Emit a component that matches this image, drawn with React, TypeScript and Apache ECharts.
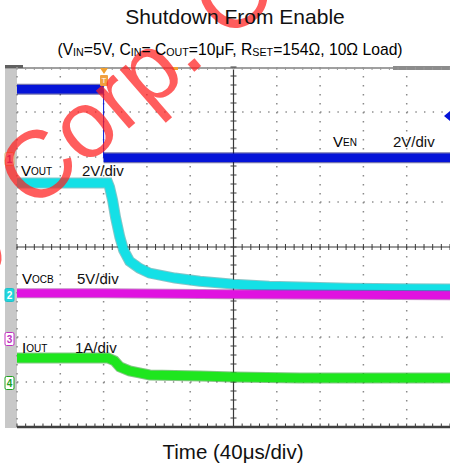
import React, { useEffect, useRef } from 'react';
import * as echarts from 'echarts';

const FONT = '"Liberation Sans", Arial, Helvetica, sans-serif';

// Time axis in µs, trigger at 0, 40 µs/div, 10 divisions
const T_MIN = -80;
const T_MAX = 320;
const T_DIV = 40;
const TIME_TICKS = [-80, -40, 0, 40, 80, 120, 160, 200, 240, 280, 320];
const T_CENTER = 120;
const DIV_COUNT = 8;

// Channels: ground level (divisions from bottom) and scale (unit/div)
const CH_NAMES = ['VEN', 'VOUT', 'VOCB', 'IOUT'];
const CH_GROUND = [5.95, 2.93, 1.95, 0.98];
const CH_SCALE = [2, 2, 5, 1];
const CH_COLORS = ['#0514d8', '#14e0e6', '#e012e0', '#1ee61e'];
const CH_EDGE = ['#00006e', '#0a8c90', '#8c0a8c', '#0a8c0a'];

// VEN (V)
const VEN_T = [-80, 0, 0, 320];
const VEN_V = [3.11, 3.11, 0.07, 0.07];

// VOUT (V)
const VOUT_T = [-80, 4, 5.5, 8.3, 11, 15, 18.5, 24, 33, 42.5, 66, 89, 120, 153, 181, 227, 273, 320];
const VOUT_V = [4.98, 4.98, 4.8, 4.22, 3.47, 2.58, 2.0, 1.51, 1.2, 0.98, 0.76, 0.62, 0.49, 0.4, 0.36, 0.31, 0.29, 0.27];

// VOCB (V)
const VOCB_T = [-80, 0, 120, 320];
const VOCB_V = [5.1, 5.1, 5.0, 4.9];

// IOUT (A)
const IOUT_T = [-80, 4, 10, 15, 24, 33, 42.5, 89, 120, 181, 320];
const IOUT_V = [0.556, 0.556, 0.49, 0.356, 0.267, 0.222, 0.178, 0.156, 0.133, 0.111, 0.111];

const toDiv = (ch: number, v: number) => CH_GROUND[ch] + v / CH_SCALE[ch];
const pts = (T: number[], V: number[], ch: number) => T.map((t, i) => [t, toDiv(ch, V[i])]);

function buildOption() {
  const venBand: any[] = [];
  const venEdge: any[] = [];
  VEN_T.forEach((t, i) => {
    if (i > 0 && t === VEN_T[i - 1]) {
      venBand.push([t, '-']);
      venEdge.push([VEN_T[i - 1], toDiv(0, VEN_V[i - 1])]);
      venEdge.push([t, toDiv(0, VEN_V[i])]);
    }
    venBand.push([t, toDiv(0, VEN_V[i])]);
  });

  const lineSeries = (name: string, data: any[], color: string, width: number, z: number, opacity = 1) => ({
    type: 'line',
    name,
    data,
    showSymbol: false,
    symbol: 'none',
    silent: true,
    z,
    lineStyle: { color, width, cap: 'butt', join: 'miter', opacity },
  });

  const graticule = {
    type: 'custom',
    silent: true,
    z: 1,
    clip: false,
    data: [[0, 0]],
    renderItem: (params: any, api: any) => {
      const X = (t: number) => api.coord([t, 0])[0];
      const Y = (v: number) => api.coord([T_MIN, v])[1];
      const xl = X(T_MIN), xr = X(T_MAX), yb = Y(0), yt = Y(DIV_COUNT);
      const dx = (X(T_DIV) - X(0)) / 5;
      const dy = (Y(0) - Y(1)) / 5;
      const children: any[] = [];
      const dot = '#8a8a8a';
      for (let k = 1; k < DIV_COUNT; k++) {
        if (k === DIV_COUNT / 2) continue;
        children.push({
          type: 'line',
          shape: { x1: xl, y1: Y(k), x2: xr, y2: Y(k) },
          style: { stroke: dot, lineWidth: 1.5, lineDash: [1.4, dx - 1.4] },
        });
      }
      TIME_TICKS.forEach((t) => {
        if (t === T_CENTER || t === T_MAX) return;
        children.push({
          type: 'line',
          shape: { x1: X(t), y1: yt, x2: X(t), y2: yb },
          style: { stroke: dot, lineWidth: 1.5, lineDash: [1.4, dy - 1.4] },
        });
      });
      const yc = Y(DIV_COUNT / 2);
      const xc = X(T_CENTER);
      const axis = '#3a3a3a';
      children.push({ type: 'line', shape: { x1: xl, y1: yc, x2: xr, y2: yc }, style: { stroke: axis, lineWidth: 1.2 } });
      children.push({ type: 'line', shape: { x1: xc, y1: yt, x2: xc, y2: yb }, style: { stroke: axis, lineWidth: 1.2 } });
      for (let n = 0; n <= 50; n++) {
        const x = xl + n * dx;
        children.push({ type: 'line', shape: { x1: x, y1: yc - 3, x2: x, y2: yc + 3 }, style: { stroke: axis, lineWidth: 1 } });
        children.push({ type: 'line', shape: { x1: x, y1: yb, x2: x, y2: yb - 3.5 }, style: { stroke: axis, lineWidth: 1 } });
        children.push({ type: 'line', shape: { x1: x, y1: yt, x2: x, y2: yt + 3 }, style: { stroke: '#999', lineWidth: 1 } });
      }
      for (let n = 0; n <= 40; n++) {
        const y = yt + n * dy;
        children.push({ type: 'line', shape: { x1: xc - 3, y1: y, x2: xc + 3, y2: y }, style: { stroke: axis, lineWidth: 1 } });
      }
      children.push({ type: 'line', shape: { x1: xl, y1: yb, x2: xr, y2: yb }, style: { stroke: '#404040', lineWidth: 2.5 } });
      return { type: 'group', children };
    },
  };

  const voutPts = pts(VOUT_T, VOUT_V, 1);
  const vocbPts = pts(VOCB_T, VOCB_V, 2);
  const ioutPts = pts(IOUT_T, IOUT_V, 3);

  const series: any[] = [
    graticule,
    lineSeries(CH_NAMES[0] + ' noise', venBand, CH_EDGE[0], 11, 3, 0.55),
    lineSeries(CH_NAMES[0], venBand, CH_COLORS[0], 8.5, 3),
    lineSeries(CH_NAMES[0] + ' edge', venEdge, CH_COLORS[0], 1, 3),
    lineSeries(CH_NAMES[1] + ' noise', voutPts, CH_EDGE[1], 11, 4, 0.5),
    lineSeries(CH_NAMES[1], voutPts, CH_COLORS[1], 9, 4),
    lineSeries(CH_NAMES[2] + ' noise', vocbPts, CH_EDGE[2], 10, 5, 0.5),
    lineSeries(CH_NAMES[2], vocbPts, CH_COLORS[2], 8, 5),
    lineSeries(CH_NAMES[3] + ' noise', ioutPts, CH_EDGE[3], 11, 6, 0.5),
    lineSeries(CH_NAMES[3], ioutPts, CH_COLORS[3], 9, 6),
  ];

  const labelRich = {
    v: { fontSize: 15, fontFamily: FONT, color: '#111', verticalAlign: 'bottom' },
    s: { fontSize: 10, fontFamily: FONT, color: '#111', verticalAlign: 'bottom', padding: [0, 0, 1, 0] },
  };
  const chanLabel = (x: number, y: number, main: string, sub: string, scale: string, sx: number) => [
    {
      type: 'text', x, y, z: 20,
      style: { text: `{v|${main}}{s|${sub}}`, rich: labelRich, verticalAlign: 'middle', align: 'left' },
    },
    {
      type: 'text', x: sx, y, z: 20,
      style: { text: scale, fontSize: 15, fontFamily: FONT, fill: '#111', verticalAlign: 'middle', align: 'left' },
    },
  ];

  const subRich = {
    m: { fontSize: 15.7, fontFamily: FONT, color: '#111', verticalAlign: 'bottom' },
    s: { fontSize: 10.7, fontFamily: FONT, color: '#111', verticalAlign: 'bottom' },
  };

  const marker = (y: number, label: string, fill: string, stroke: string, color: string) => ({
    type: 'group', z: 8,
    children: [
      { type: 'rect', shape: { x: 5, y: y - 6.5, width: 9, height: 13, r: 1.5 }, style: { fill, stroke, lineWidth: 1 } },
      { type: 'text', x: 9.5, y, style: { text: label, fontSize: 10, fontWeight: 'bold', fontFamily: FONT, fill: color, align: 'center', verticalAlign: 'middle' } },
    ],
  });

  const graphic: any[] = [
    { type: 'rect', z: 0, shape: { x: 5, y: 67, width: 12, height: 361 }, style: { fill: '#c8c8c8' } },
    { type: 'rect', z: 0, shape: { x: 5, y: 67, width: 446, height: 2 }, style: { fill: '#a0a0a0' } },
    { type: 'rect', z: 0, shape: { x: 393, y: 66, width: 58, height: 4 }, style: { fill: '#8c8c8c' } },
    { type: 'rect', z: 0, shape: { x: 5, y: 65, width: 18, height: 3 }, style: { fill: '#606060' } },
    marker(159, '1', '#efe6f4', '#d8b060', '#9a2ab0'),
    marker(295, '2', '#20d6de', '#20c0c8', '#ffffff'),
    marker(339, '3', '#ffffff', '#c030c0', '#c030c0'),
    marker(383, '4', '#ffffff', '#20a020', '#20a020'),
    { type: 'polygon', z: 8, shape: { points: [[100, 68], [108, 68], [104, 74]] }, style: { fill: '#f0a030' } },
    { type: 'rect', z: 8, shape: { x: 100, y: 75, width: 8, height: 11, r: 1 }, style: { fill: '#f0a040' } },
    { type: 'text', z: 9, x: 104, y: 80.5, style: { text: 'T', fontSize: 8, fontFamily: FONT, fill: '#ffffff', align: 'center', verticalAlign: 'middle' } },
    { type: 'rect', z: 8, shape: { x: 173, y: 67, width: 5, height: 3 }, style: { fill: '#f0a030' } },
    { type: 'polygon', z: 8, shape: { points: [[444, 116], [450, 111], [450, 121]] }, style: { fill: '#0514d8' } },
    // watermark
    {
      type: 'text', z: 12, x: -45, y: 236, rotation: (41 * Math.PI) / 180,
      style: { text: 'y Corp. Co', fontSize: 95, fontFamily: FONT, fill: 'rgba(255,30,30,0.72)', align: 'left', verticalAlign: 'middle' },
    },
    ...chanLabel(21, 170, 'V', 'OUT', '2V/div', 82),
    ...chanLabel(333, 141, 'V', 'EN', '2V/div', 393),
    ...chanLabel(22, 278, 'V', 'OCB', '5V/div', 77),
    ...chanLabel(22, 347, 'I', 'OUT', '1A/div', 75),
    {
      type: 'text', z: 20, x: 235, y: 16.5,
      style: { text: 'Shutdown From Enable', fontSize: 21, fontFamily: FONT, fill: '#111', align: 'center', verticalAlign: 'middle' },
    },
    {
      type: 'text', z: 20, x: 230, y: 49,
      style: {
        text: '{m|(V}{s|IN}{m|=5V, C}{s|IN}{m|= C}{s|OUT}{m|=10μF, R}{s|SET}{m|=154Ω, 10Ω Load)}',
        rich: subRich, align: 'center', verticalAlign: 'middle',
      },
    },
    {
      type: 'text', z: 20, x: 233, y: 451,
      style: { text: 'Time (40μs/div)', fontSize: 20.5, fontFamily: FONT, fill: '#111', align: 'center', verticalAlign: 'middle' },
    },
  ];

  return {
    animation: false,
    backgroundColor: '#ffffff',
    grid: { left: 17, top: 67, width: 434, height: 360, containLabel: false },
    xAxis: { type: 'value', min: T_MIN, max: T_MAX, interval: T_DIV, show: false },
    yAxis: { type: 'value', min: 0, max: DIV_COUNT, interval: 1, show: false },
    series,
    graphic,
  };
}

export default function App() {
  const ref = useRef<HTMLDivElement>(null);
  useEffect(() => {
    if (!ref.current) return;
    const chart = echarts.init(ref.current, undefined, { renderer: 'svg' });
    chart.setOption(buildOption() as any);
    return () => chart.dispose();
  }, []);
  return <div ref={ref} style={{ position: 'fixed', left: 0, top: 0, width: 450, height: 466 }} />;
}
